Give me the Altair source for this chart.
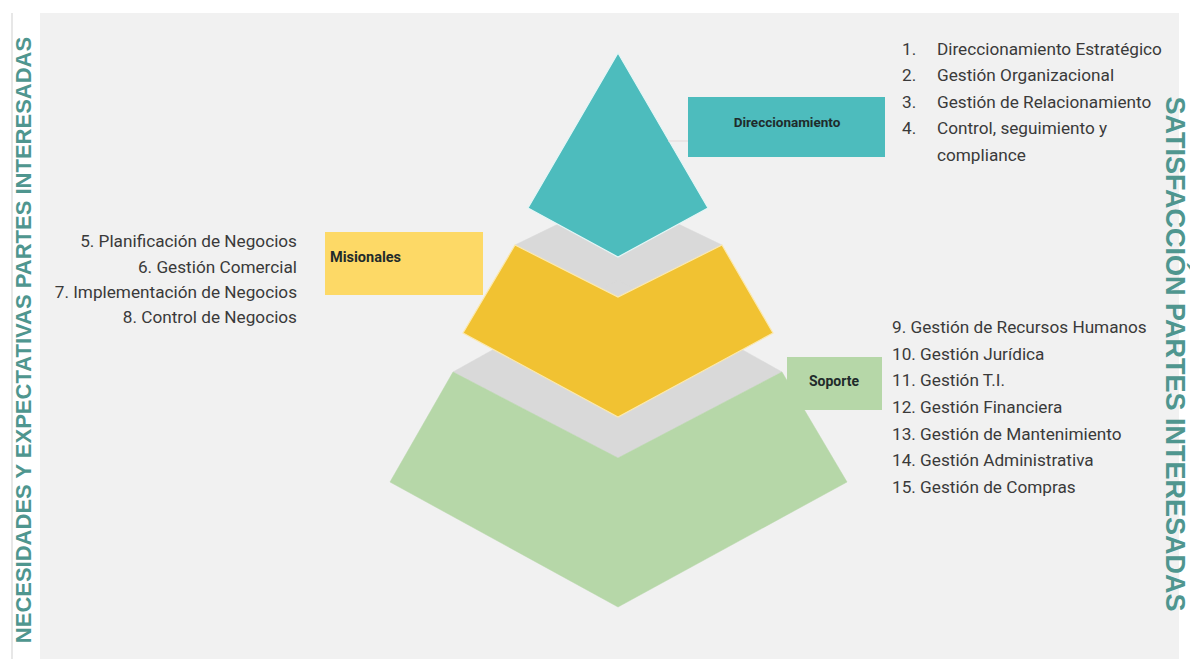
import altair as alt
import pandas as pd

# ---------------- data (image pixel coordinates of the diagram) ----------------
# pyramid pieces: vertices in drawing order
GRAY_TOP_X = [618, 722, 618, 515]
GRAY_TOP_Y = [195, 245, 297, 245]
GRAY_BOT_X = [618, 782, 618, 453]
GRAY_BOT_Y = [280, 372, 458, 372]
GREEN_X = [453, 618, 782, 847, 618, 390]
GREEN_Y = [372, 458, 372, 482, 607, 482]
YELLOW_X = [515, 618, 722, 773, 618, 463]
YELLOW_Y = [245, 297, 245, 333, 417, 333]
TEAL_X = [618, 708, 618, 528]
TEAL_Y = [53, 208, 257, 208]

# label boxes
BOX_NAMES = ["Direccionamiento", "Misionales", "Soporte"]
BOX_X1 = [688, 325, 787]
BOX_X2 = [885, 483, 882]
BOX_Y1 = [97, 232, 357]
BOX_Y2 = [157, 295, 410]
BOX_COLORS = ["#4dbcbd", "#fdd966", "#b6d7a8"]
BOX_TEXT_X = [787, 330, 834]
BOX_TEXT_Y = [123, 258, 382]
BOX_TEXT_ALIGN = ["center", "left", "center"]
BOX_TEXT_SIZE = [13.5, 14.5, 14]

# process lists
TOP_NUMS = ["1.", "2.", "3.", "4.", ""]
TOP_ITEMS = ["Direccionamiento Estratégico", "Gestión Organizacional",
             "Gestión de Relacionamiento", "Control, seguimiento y", "compliance"]
TOP_Y = [50, 76.4, 102.8, 129.2, 155.6]

LEFT_ITEMS = ["5. Planificación de Negocios", "6. Gestión Comercial",
              "7. Implementación de Negocios", "8. Control de Negocios"]
LEFT_Y = [242, 268, 293, 318]

BOTTOM_ITEMS = ["9. Gestión de Recursos Humanos", "10. Gestión Jurídica", "11. Gestión T.I.",
                "12. Gestión Financiera", "13. Gestión de Mantenimiento",
                "14. Gestión Administrativa", "15. Gestión de Compras"]
BOTTOM_Y = [328, 354.7, 381.3, 408, 434.7, 461.3, 488]

LEFT_TITLE = "NECESIDADES Y EXPECTATIVAS PARTES INTERESADAS"
RIGHT_TITLE = "SATISFACCIÓN PARTES INTERESADAS"

# ---------------- chart ----------------
W, H = 1182, 651
XS = alt.Scale(domain=[8, 8 + W])
YS = alt.Scale(domain=[8, 8 + H], reverse=True)


def X(f):
    return alt.X(f, type="quantitative", scale=XS, axis=None)


def Y(f):
    return alt.Y(f, type="quantitative", scale=YS, axis=None)


def poly(xs, ys, color, stroke=None, sw=0.0):
    df = pd.DataFrame({"x": xs, "y": ys, "i": list(range(len(xs)))})
    return alt.Chart(df).mark_line(
        interpolate="linear-closed", fill=color, stroke=stroke or color,
        strokeWidth=sw if sw else 0.5
    ).encode(x=X("x"), y=Y("y"), order=alt.Order("i:Q"))


# background panel and thin left rule
panel = alt.Chart(pd.DataFrame({"x": [40], "x2": [1179], "y": [13], "y2": [667]})).mark_rect(
    color="#f1f1f1").encode(x=X("x"), x2=alt.X2("x2"), y=Y("y"), y2=alt.Y2("y2"))
vrule = alt.Chart(pd.DataFrame({"x": [12], "y": [13], "y2": [667]})).mark_rule(
    color="#cfcfcf", strokeWidth=1).encode(x=X("x"), y=Y("y"), y2=alt.Y2("y2"))

gray1 = poly(GRAY_TOP_X, GRAY_TOP_Y, "#d9d9d9")
gray2 = poly(GRAY_BOT_X, GRAY_BOT_Y, "#d9d9d9")
green = poly(GREEN_X, GREEN_Y, "#b6d7a8")
yellow = poly(YELLOW_X, YELLOW_Y, "#f1c232", stroke="#fbe9b0", sw=1.2)
teal = poly(TEAL_X, TEAL_Y, "#4dbcbd", stroke="#e6f6f6", sw=1.2)

# connector from tip to Direccionamiento box
conn = alt.Chart(pd.DataFrame({"x": [668], "x2": [688], "y": [141]})).mark_rule(
    color="#e3d9d9", strokeWidth=1).encode(x=X("x"), x2=alt.X2("x2"), y=Y("y"))

boxes_df = pd.DataFrame({"name": BOX_NAMES, "x1": BOX_X1, "x2": BOX_X2,
                         "y1": BOX_Y1, "y2": BOX_Y2, "c": BOX_COLORS,
                         "tx": BOX_TEXT_X, "ty": BOX_TEXT_Y, "al": BOX_TEXT_ALIGN,
                         "fs": BOX_TEXT_SIZE})
boxes = alt.Chart(boxes_df).mark_rect().encode(
    x=X("x1"), x2=alt.X2("x2"), y=Y("y1"), y2=alt.Y2("y2"),
    color=alt.Color("c:N", scale=None))

box_texts = []
for al in ["center", "left"]:
    box_texts.append(
        alt.Chart(boxes_df[boxes_df["al"] == al]).mark_text(
            align=al, baseline="middle", font="Roboto", fontWeight="bold",
            color="#1f2b2b").encode(x=X("tx"), y=Y("ty"), text="name:N",
                                    size=alt.Size("fs:Q", scale=None)))

FONT = "Roboto"
TCOL = "#3a3a3a"
FS = 17.2

top_df = pd.DataFrame({"n": TOP_NUMS, "t": TOP_ITEMS, "y": TOP_Y,
                       "xn": [902] * len(TOP_Y), "xt": [937] * len(TOP_Y)})
top_nums = alt.Chart(top_df).mark_text(align="left", baseline="middle", font=FONT,
                                       fontSize=FS, color=TCOL).encode(
    x=X("xn"), y=Y("y"), text="n:N")
top_txt = alt.Chart(top_df).mark_text(align="left", baseline="middle", font=FONT,
                                      fontSize=FS, color=TCOL).encode(
    x=X("xt"), y=Y("y"), text="t:N")

left_df = pd.DataFrame({"t": LEFT_ITEMS, "y": LEFT_Y, "x": [297] * len(LEFT_Y)})
left_txt = alt.Chart(left_df).mark_text(align="right", baseline="middle", font=FONT,
                                        fontSize=FS, color=TCOL).encode(
    x=X("x"), y=Y("y"), text="t:N")

bot_df = pd.DataFrame({"t": BOTTOM_ITEMS, "y": BOTTOM_Y, "x": [892] * len(BOTTOM_Y)})
bot_txt = alt.Chart(bot_df).mark_text(align="left", baseline="middle", font=FONT,
                                      fontSize=FS, color=TCOL).encode(
    x=X("x"), y=Y("y"), text="t:N")

lt = alt.Chart(pd.DataFrame({"t": [LEFT_TITLE], "x": [24], "y": [340]})).mark_text(
    angle=270, align="center", baseline="middle", font="Liberation Sans", fontWeight="bold",
    fontSize=22, color="#4f968f").encode(x=X("x"), y=Y("y"), text="t:N")
rt = alt.Chart(pd.DataFrame({"t": [RIGHT_TITLE], "x": [1174], "y": [354]})).mark_text(
    angle=90, align="center", baseline="middle", font="Liberation Sans", fontWeight="bold",
    fontSize=27, color="#4f968f").encode(x=X("x"), y=Y("y"), text="t:N")

chart = alt.layer(
    panel, vrule, gray1, gray2, green, yellow, teal, conn, boxes, *box_texts,
    top_nums, top_txt, left_txt, bot_txt, lt, rt
).properties(
    width=W, height=H, padding=0, background="white",
    autosize=alt.AutoSizeParams(type="none")
).configure_view(stroke=None)

chart.save("out.html", embed_options={"renderer": "svg", "actions": False})
